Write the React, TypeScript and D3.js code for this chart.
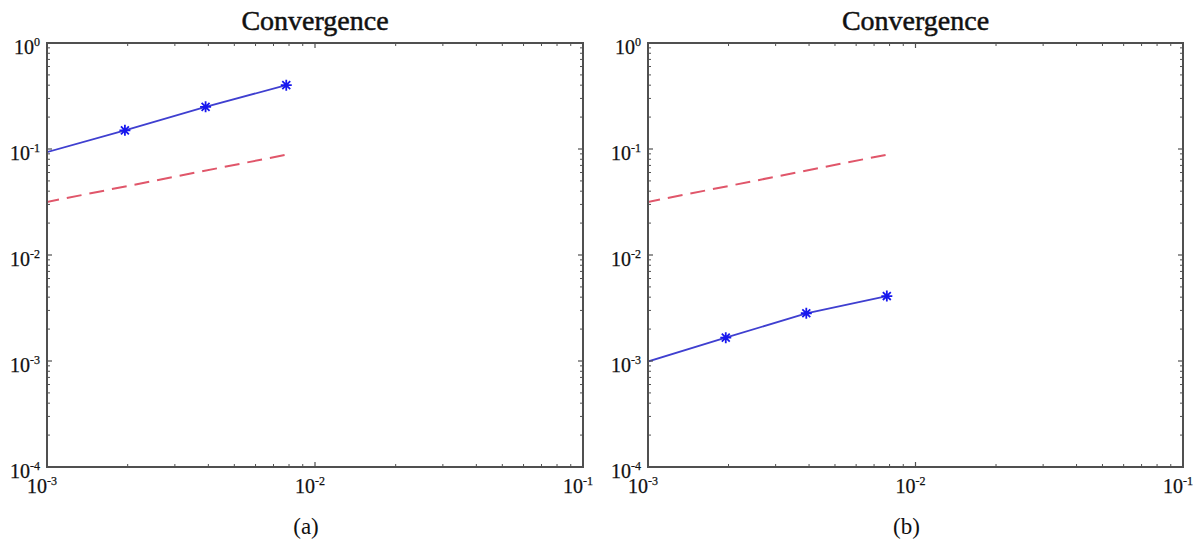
import * as d3 from 'd3';

// step sizes h (1/1024 ... 1/128)
const hValues = [1 / 1024, 1 / 512, 1 / 256, 1 / 128];
// panel (a) error
const errorA = [0.092, 0.15, 0.25, 0.40];
// panel (b) error
const errorB = [0.00097, 0.00166, 0.00282, 0.0041];
// reference slope line (dashed red)
const refH = [1 / 1024, 1 / 128];
const refErr = [0.0313, 0.0884];

const xTickValues = [1e-3, 1e-2, 1e-1];
const yTickValues = [1e-4, 1e-3, 1e-2, 1e-1, 1];

const panels = [
  { caption: '(a)', errors: errorA, left: 47, right: 583 },
  { caption: '(b)', errors: errorB, left: 648, right: 1183 },
];

const TOP = 43;
const BOTTOM = 467;
const AXIS = '#505050';
const FONT = '"Liberation Serif", "Times New Roman", serif';

function expLabel(v: number) {
  return String(Math.round(Math.log10(v)));
}

// MATLAB style '*' marker: plus + cross
function starPath(r: number) {
  const d = r * 0.72;
  return `M${-r},0L${r},0M0,${-r}L0,${r}M${-d},${-d}L${d},${d}M${-d},${d}L${d},${-d}`;
}

function Panel({ caption, errors, left, right }: { caption: string; errors: number[]; left: number; right: number }) {
  const x = d3.scaleLog().domain([1e-3, 1e-1]).range([left, right]);
  const y = d3.scaleLog().domain([1e-4, 1]).range([BOTTOM, TOP]);

  const line = d3.line<[number, number]>()
    .x(d => x(d[0]))
    .y(d => y(d[1]));

  const errPts = hValues.map((h, i) => [h, errors[i]] as [number, number]);
  const refPts = refH.map((h, i) => [h, refErr[i]] as [number, number]);

  const xMinor = x.ticks().filter(t => !xTickValues.some(m => Math.abs(m - t) / m < 1e-6));
  const yMinor = y.ticks().filter(t => !yTickValues.some(m => Math.abs(m - t) / m < 1e-6));
  const cx = (left + right) / 2;
  const clipId = 'clip-' + caption.replace(/\W/g, '');

  return (
    <g>
      <defs>
        <clipPath id={clipId}>
          <rect x={left} y={TOP} width={right - left} height={BOTTOM - TOP} />
        </clipPath>
      </defs>
      <text x={cx} y={30} textAnchor="middle" fontFamily={FONT} fontSize={28} fill="#111" stroke="#111" strokeWidth={0.5}>Convergence</text>

      <g clipPath={`url(#${clipId})`}>
        <path d={line(refPts) || ''} fill="none" stroke="#e0566a" strokeWidth={2} strokeDasharray="15,8" />
        <path d={line(errPts) || ''} fill="none" stroke="#3f3fd0" strokeWidth={1.8} />
        {/* first point sits just outside the axis, so its marker is hidden */}
        {errPts.filter(p => p[0] >= 1e-3).map((p, i) => (
          <path key={i} d={starPath(5.5)} transform={`translate(${x(p[0])},${y(p[1])})`} stroke="#1818ee" strokeWidth={1.8} fill="none" />
        ))}
      </g>

      {/* minor ticks */}
      {xMinor.map((t, i) => (
        <g key={'xm' + i} stroke={AXIS} strokeWidth={1}>
          <line x1={x(t)} x2={x(t)} y1={BOTTOM} y2={BOTTOM - 3} />
          <line x1={x(t)} x2={x(t)} y1={TOP} y2={TOP + 3} />
        </g>
      ))}
      {yMinor.map((t, i) => (
        <g key={'ym' + i} stroke={AXIS} strokeWidth={1}>
          <line x1={left} x2={left + 3} y1={y(t)} y2={y(t)} />
          <line x1={right} x2={right - 3} y1={y(t)} y2={y(t)} />
        </g>
      ))}
      {xTickValues.map((t, i) => (
        <g key={'xM' + i} stroke={AXIS} strokeWidth={1.2}>
          <line x1={x(t)} x2={x(t)} y1={BOTTOM} y2={BOTTOM - 5} />
          <line x1={x(t)} x2={x(t)} y1={TOP} y2={TOP + 5} />
        </g>
      ))}
      {yTickValues.map((t, i) => (
        <g key={'yM' + i} stroke={AXIS} strokeWidth={1.2}>
          <line x1={left} x2={left + 5} y1={y(t)} y2={y(t)} />
          <line x1={right} x2={right - 5} y1={y(t)} y2={y(t)} />
        </g>
      ))}

      <rect x={left} y={TOP} width={right - left} height={BOTTOM - TOP} fill="none" stroke={AXIS} strokeWidth={2} />

      {yTickValues.map((t, i) => (
        <text key={'yl' + i} x={left - 7} y={y(t) + 11} textAnchor="end" fontFamily={FONT} fontSize={20} fill="#111" stroke="#111" strokeWidth={0.25}>
          10<tspan dy={-8} fontSize={12}>{expLabel(t)}</tspan>
        </text>
      ))}
      {xTickValues.map((t, i) => (
        <text key={'xl' + i} x={x(t) - 5} y={493} textAnchor="middle" fontFamily={FONT} fontSize={20} fill="#111" stroke="#111" strokeWidth={0.25}>
          10<tspan dy={-8} fontSize={12}>{expLabel(t)}</tspan>
        </text>
      ))}

      <text x={cx - 9} y={534} textAnchor="middle" fontFamily={FONT} fontSize={23} fill="#111">{caption}</text>
    </g>
  );
}

export default function App() {
  return (
    <svg width={1199} height={542} style={{ position: 'absolute', left: 0, top: 0, background: '#fff' }}>
      {panels.map(p => (
        <Panel key={p.caption} {...p} />
      ))}
    </svg>
  );
}
